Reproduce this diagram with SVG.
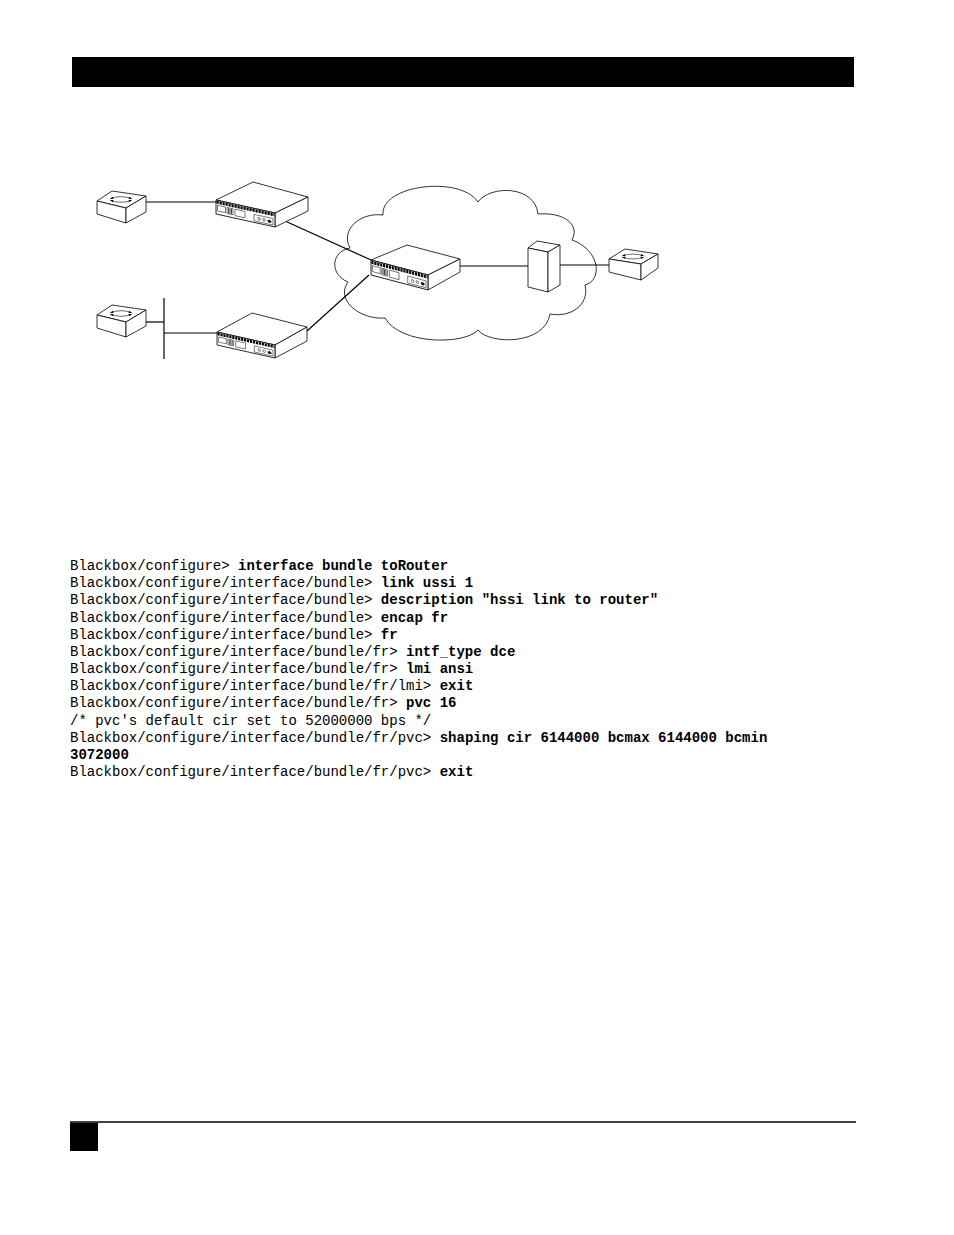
<svg xmlns="http://www.w3.org/2000/svg" xmlns:xlink="http://www.w3.org/1999/xlink" width="954" height="1235" viewBox="0 0 954 1235">
<style>
.face{fill:#fff;stroke:#000;stroke-width:0.8;stroke-linejoin:round}
.det{fill:none;stroke:#000;stroke-width:0.5}
.link{fill:none;stroke:#000;stroke-width:1.2}
.cloud{fill:none;stroke:#000;stroke-width:0.8}
.cli{font-family:"Liberation Mono","Courier New",monospace;font-size:14px;fill:#000}
.b{font-weight:bold}
</style>
<defs>
<g id="panel">
<rect x="0" y="0" width="59" height="14" class="face"/>
<line x1="0.5" y1="2" x2="58.5" y2="2" stroke="#000" stroke-width="3" stroke-dasharray="2.2 0.8"/>
<rect x="1.5" y="5" width="8" height="5.5" class="det"/>
<rect x="11" y="5" width="6" height="6" class="det"/>
<line x1="12.5" y1="5.5" x2="12.5" y2="10.5" stroke="#000" stroke-width="0.7"/>
<line x1="14" y1="5.5" x2="14" y2="10.5" stroke="#000" stroke-width="0.7"/>
<line x1="15.5" y1="5.5" x2="15.5" y2="10.5" stroke="#000" stroke-width="0.7"/>
<rect x="19" y="5" width="10" height="6.5" class="det"/>
<rect x="38" y="6" width="19" height="6.5" class="det"/>
<circle cx="43" cy="9.3" r="1.3" class="det"/>
<circle cx="48" cy="9.3" r="1.3" class="det"/>
<ellipse cx="53.5" cy="9.5" rx="2" ry="1.4" fill="#000"/>
</g>
<g id="arrows">
<path d="M-12,-1 Q0,-6 12,-1" fill="none" stroke="#000" stroke-width="0.7"/>
<path d="M-12,1 Q0,6 12,1" fill="none" stroke="#000" stroke-width="0.7"/>
<path d="M-12,-1 l3,-2.5 l0.5,3 z M12,-1 l-3,-2.5 l-0.5,3 z M-12,1 l3,2.5 l0.5,-3 z M12,1 l-3,2.5 l-0.5,-3 z" fill="#000"/>
</g>
</defs>

<g id="header">
<rect x="72" y="57" width="782" height="30" fill="#000"/>
</g>

<g id="cloud-network">
<path class="cloud" d="M350,248 C340,230 360,212 383,215 C380,185 460,175 478,202 C490,185 535,185 538,214 C565,212 580,225 572,240 C600,250 603,280 585,285 C590,305 570,318 550,314 C545,345 490,345 478,330 C465,345 400,345 385,318 C360,320 335,300 348,282 C330,275 330,252 350,248 Z"/>
</g>

<g id="connectors">
<line class="link" x1="146" y1="202" x2="216" y2="202"/>
<line class="link" x1="285" y1="221" x2="371" y2="260"/>
<line class="link" x1="146" y1="322" x2="164" y2="322"/>
<line class="link" x1="164" y1="298" x2="164" y2="359"/>
<line class="link" x1="164" y1="333" x2="217" y2="333"/>
<line class="link" x1="307" y1="331" x2="369" y2="275"/>
<line class="link" x1="460" y1="266" x2="528" y2="266"/>
<line class="link" x1="560" y1="265" x2="609" y2="265"/>
</g>

<g id="switch-top-left">
<polygon class="face" points="97,201 112,191 146,196 126,208"/>
<polygon class="face" points="97,201 126,208 126,223 97,214"/>
<polygon class="face" points="126,208 146,196 146,212 126,223"/>
<use xlink:href="#arrows" transform="translate(121,199.5) scale(0.9,0.8)"/>
</g>

<g id="switch-bottom-left">
<polygon class="face" points="97,315 112,305 146,310 126,322"/>
<polygon class="face" points="97,315 126,322 126,337 97,328"/>
<polygon class="face" points="126,322 146,310 146,326 126,337"/>
<use xlink:href="#arrows" transform="translate(121,313.5) scale(0.9,0.8)"/>
</g>

<g id="switch-right">
<polygon class="face" points="609,259 625,249 658,254 641,264"/>
<polygon class="face" points="609,259 641,264 641,280 609,272"/>
<polygon class="face" points="641,264 658,254 658,268 641,280"/>
<use xlink:href="#arrows" transform="translate(633,256.5) scale(0.9,0.7)"/>
</g>

<g id="router-top">
<polygon class="face" points="216,200 253,182 308,197 275,213"/>
<polygon class="face" points="275,213 308,197 308,211 275,227"/>
<use xlink:href="#panel" transform="matrix(1,0.2203,0,1,216,200)"/>
</g>

<g id="router-bottom">
<polygon class="face" points="217,332 252,313 307,327 275,345"/>
<polygon class="face" points="275,345 307,327 307,341 275,358"/>
<use xlink:href="#panel" transform="matrix(0.983,0.2203,0,0.93,217,332)"/>
</g>

<g id="router-center">
<polygon class="face" points="371,260 407,245 460,259 428,275"/>
<polygon class="face" points="428,275 460,259 460,272 428,290"/>
<use xlink:href="#panel" transform="matrix(0.966,0.254,0,1.07,371,260)"/>
</g>

<g id="cabinet">
<polygon class="face" points="528,248 537,241 560,245 548,252"/>
<polygon class="face" points="528,248 548,252 548,292 528,287"/>
<polygon class="face" points="548,252 560,245 560,285 548,292"/>
</g>

<g id="cli-text" class="cli">
<text x="70" y="570">Blackbox/configure&gt; <tspan class="b">interface bundle toRouter</tspan></text>
<text x="70" y="587.2">Blackbox/configure/interface/bundle&gt; <tspan class="b">link ussi 1</tspan></text>
<text x="70" y="604.3">Blackbox/configure/interface/bundle&gt; <tspan class="b">description "hssi link to router"</tspan></text>
<text x="70" y="621.5">Blackbox/configure/interface/bundle&gt; <tspan class="b">encap fr</tspan></text>
<text x="70" y="638.7">Blackbox/configure/interface/bundle&gt; <tspan class="b">fr</tspan></text>
<text x="70" y="655.9">Blackbox/configure/interface/bundle/fr&gt; <tspan class="b">intf_type dce</tspan></text>
<text x="70" y="673">Blackbox/configure/interface/bundle/fr&gt; <tspan class="b">lmi ansi</tspan></text>
<text x="70" y="690.2">Blackbox/configure/interface/bundle/fr/lmi&gt; <tspan class="b">exit</tspan></text>
<text x="70" y="707.4">Blackbox/configure/interface/bundle/fr&gt; <tspan class="b">pvc 16</tspan></text>
<text x="70" y="724.5">/* pvc's default cir set to 52000000 bps */</text>
<text x="70" y="741.7">Blackbox/configure/interface/bundle/fr/pvc&gt; <tspan class="b">shaping cir 6144000 bcmax 6144000 bcmin</tspan></text>
<text x="70" y="758.9" class="b">3072000</text>
<text x="70" y="776">Blackbox/configure/interface/bundle/fr/pvc&gt; <tspan class="b">exit</tspan></text>
</g>

<g id="footer">
<line x1="70" y1="1122" x2="856" y2="1122" stroke="#000" stroke-width="1.3"/>
<rect x="70" y="1123" width="28" height="28" fill="#000"/>
</g>
</svg>
